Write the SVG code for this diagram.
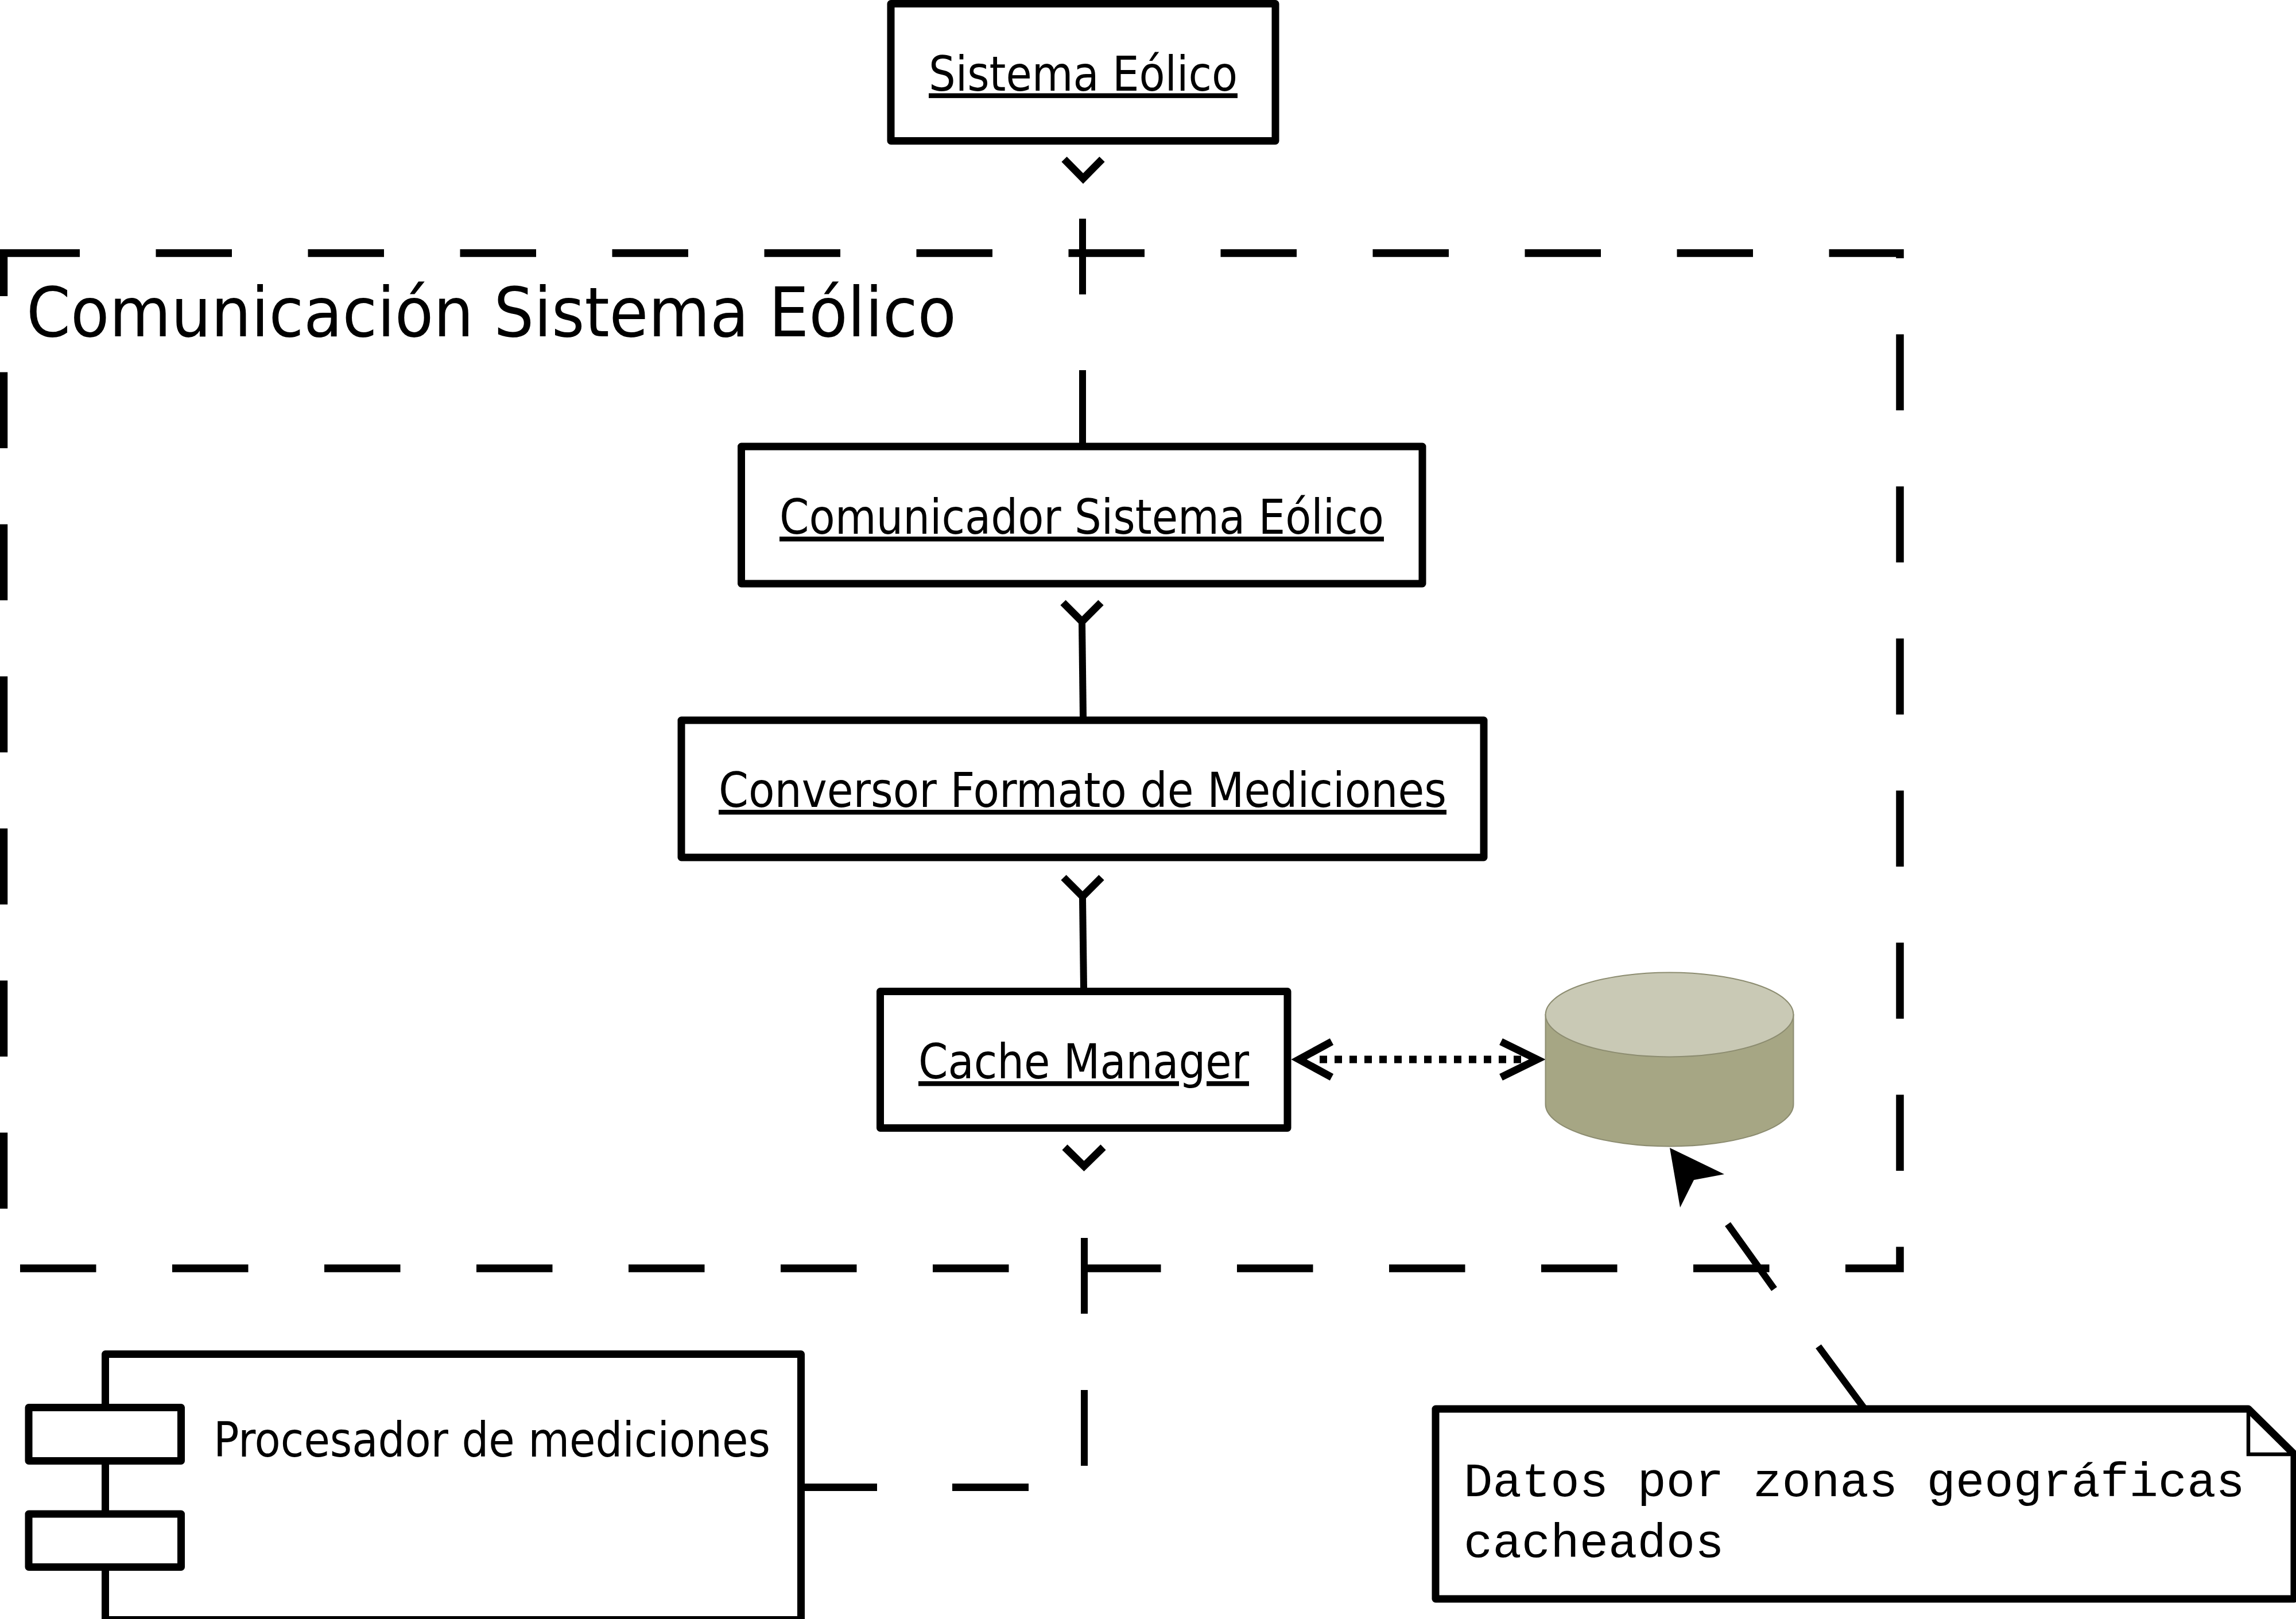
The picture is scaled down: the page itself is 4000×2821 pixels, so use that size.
<svg xmlns="http://www.w3.org/2000/svg" width="4000" height="2821" viewBox="0 0 4000 2821">
<style>
.n{fill:#fff;stroke:#000;stroke-width:13;stroke-linejoin:round}
.l{fill:none;stroke:#000;stroke-width:12}
.t{font-family:"DejaVu Sans",sans-serif;font-stretch:condensed;font-size:84px;fill:#000}
.u{text-decoration:underline}
.m{font-family:"Liberation Mono",monospace;font-size:84px;fill:#000}
.a{fill:none;stroke:#000;stroke-width:13;stroke-linejoin:miter}
</style>
<rect width="4000" height="2821" fill="#fff"/>
<g id="frame">
<path d="M6.5 441H3310V2210H6.5Z" fill="none" stroke="#000" stroke-width="13.5" stroke-dasharray="132.5 132.5"/>
<text class="t" x="46" y="586" style="font-size:120px" textLength="1620" lengthAdjust="spacingAndGlyphs">Comunicación Sistema Eólico</text>
</g>
<g id="connectors">
<path class="l" d="M1886 381V513M1886 645V775"/>
<path class="a" d="M1854 277.5L1887 311L1920 277.5"/>
<path class="a" d="M1852 1050L1885 1083L1918 1050"/>
<path class="l" d="M1885 1085L1887 1249"/>
<path class="a" d="M1853 1529L1886 1562L1919 1529"/>
<path class="l" d="M1886 1565L1888 1721"/>
<path class="a" d="M1855 1999L1888.5 2032L1922 1999"/>
<path class="l" d="M1889 2157V2289M1889 2422V2554"/>
<path class="a" d="M1402 2591.5H1528M1659 2591.5H1792"/>
<path class="a" d="M2320 1815L2263 1846L2320 1877"/>
<path class="a" d="M2615 1815L2678 1846L2615 1877"/>
<path d="M2299 1846H2650" fill="none" stroke="#000" stroke-width="13" stroke-dasharray="13 13"/>
<polygon points="2909,2000 3004,2046 2951,2056 2927,2104" fill="#000"/>
<path class="l" d="M3010 2133L3091 2246M3168 2346L3250 2457"/>
</g>
<g id="sistema-eolico">
<rect class="n" x="1552" y="6.5" width="670" height="239"/>
<text class="t u" x="1618" y="157.5" textLength="538" lengthAdjust="spacingAndGlyphs">Sistema Eólico</text>
</g>
<g id="comunicador">
<rect class="n" x="1291.5" y="778" width="1186.5" height="239"/>
<text class="t u" x="1358" y="930" textLength="1053" lengthAdjust="spacingAndGlyphs">Comunicador Sistema Eólico</text>
</g>
<g id="conversor">
<rect class="n" x="1187" y="1255" width="1398" height="239"/>
<text class="t u" x="1252" y="1406" textLength="1268" lengthAdjust="spacingAndGlyphs">Conversor Formato de Mediciones</text>
</g>
<g id="cache-manager">
<rect class="n" x="1533.5" y="1727.5" width="709.5" height="238"/>
<text class="t u" x="1600" y="1879" textLength="576" lengthAdjust="spacingAndGlyphs">Cache Manager</text>
</g>
<g id="cache-db">
<path d="M2692.5 1768V1924A216 73.5 0 0 0 3124.5 1924V1768Z" fill="#a6a684" stroke="#8c8c70" stroke-width="2"/>
<ellipse cx="2908.5" cy="1768" rx="216" ry="73.5" fill="#c9c9b5" stroke="#8c8c70" stroke-width="2"/>
</g>
<g id="procesador">
<rect class="n" x="183.5" y="2359.5" width="1212" height="463"/>
<rect class="n" x="50" y="2452.5" width="265.5" height="93"/>
<rect class="n" x="50" y="2638" width="265.5" height="92.5"/>
<text class="t" x="372" y="2538" textLength="970" lengthAdjust="spacingAndGlyphs">Procesador de mediciones</text>
</g>
<g id="nota">
<path class="n" d="M2501 2455H3917L3997 2534V2786H2501Z"/>
<path d="M3917 2455V2534H3997" fill="none" stroke="#000" stroke-width="6.5"/>
<text class="m" x="2550" y="2606.6">Datos por zonas geográficas</text>
<text class="m" x="2550" y="2712.7">cacheados</text>
</g>
</svg>
